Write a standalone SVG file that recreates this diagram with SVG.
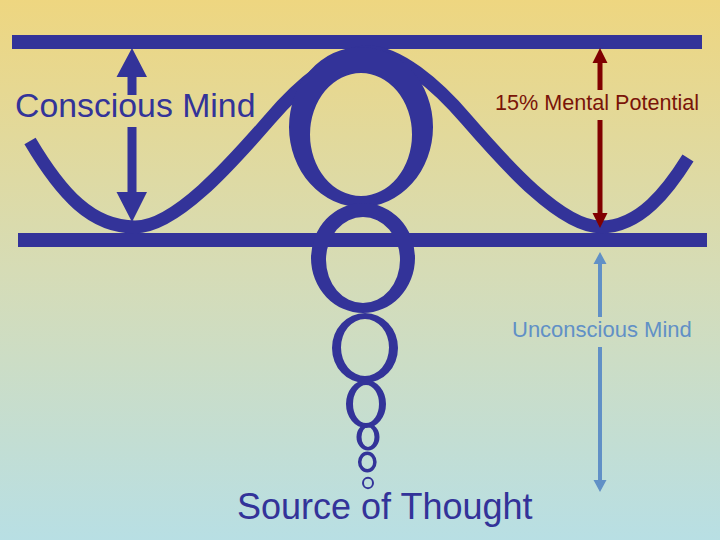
<svg xmlns="http://www.w3.org/2000/svg" width="720" height="540" viewBox="0 0 720 540">
  <defs>
    <linearGradient id="bg" x1="0" y1="0" x2="0" y2="1">
      <stop offset="0" stop-color="#EED680"/>
      <stop offset="0.5" stop-color="#D6DCB6"/>
      <stop offset="1" stop-color="#B8DFE4"/>
    </linearGradient>
    <style>
      .blue{fill:#333399}
      .red{fill:#800000}
      .lblue{fill:#6190C6}
      .wave{fill:none;stroke:#333399;stroke-width:13;stroke-linecap:butt}
      .ring{fill:#333399;fill-rule:evenodd}
      .thin{fill:none;stroke:#333399}
      text{font-family:"Liberation Sans",Arial,sans-serif}
    </style>
  </defs>
  <rect width="720" height="540" fill="url(#bg)"/>

  <g id="bars">
    <rect class="blue" x="12" y="35" width="690" height="14"/>
    <rect class="blue" x="18" y="233" width="689" height="14"/>
  </g>

  <g id="wave">
    <path class="wave" d="M30,141 C62,195 92,227 135,227 C175,227 230,165 270,119 C300,84 338,52 368,52 C398,52 436,84 466,119 C506,165 561,227 601,227 C640,227 668,190 688,158"/>
  </g>

  <g id="rings">
    <path class="ring" d="M289,127 a72,80 0 1,0 144,0 a72,80 0 1,0 -144,0 Z M310,134.5 a51,61.5 0 1,0 102,0 a51,61.5 0 1,0 -102,0 Z"/>
    <path class="ring" d="M311,258 a52,55 0 1,0 104,0 a52,55 0 1,0 -104,0 Z M326,260 a37,43 0 1,0 74,0 a37,43 0 1,0 -74,0 Z"/>
    <path class="ring" d="M332,348 a33,35 0 1,0 66,0 a33,35 0 1,0 -66,0 Z M341,347.5 a24,28.5 0 1,0 48,0 a24,28.5 0 1,0 -48,0 Z"/>
    <path class="ring" d="M346,404 a20,24 0 1,0 40,0 a20,24 0 1,0 -40,0 Z M353,404 a13,19 0 1,0 26,0 a13,19 0 1,0 -26,0 Z"/>
    <path class="ring" d="M356.5,437 a11.5,13.5 0 1,0 23,0 a11.5,13.5 0 1,0 -23,0 Z M361.5,437 a6.5,10 0 1,0 13,0 a6.5,10 0 1,0 -13,0 Z"/>
    <ellipse class="thin" cx="367.3" cy="462" rx="7.6" ry="8.8" stroke-width="3.5"/>
    <ellipse class="thin" cx="368" cy="483" rx="5" ry="5.2" stroke-width="2"/>
  </g>

  <g id="connectors">
    <polygon class="blue" points="127.5,95 127.5,77 116.5,77 132,48 147,77 136.5,77 136.5,95"/>
    <polygon class="blue" points="127.5,127 136.5,127 136.5,192 147,192 132,222 116.5,192 127.5,192"/>
    <polygon class="red" points="597.5,90 597.5,63 592.5,63 600,48 607.5,63 602.5,63 602.5,90"/>
    <polygon class="red" points="597.5,120 602.5,120 602.5,213 607.5,213 600,228 592.5,213 597.5,213"/>
    <polygon class="lblue" points="598,317 598,264 593.5,264 600,252 606.5,264 602,264 602,317"/>
    <polygon class="lblue" points="598,347 602,347 602,480 606.5,480 600,492 593.5,480 598,480"/>
  </g>

  <g id="labels">
    <text id="conscious" x="15" y="117" font-size="33.8" fill="#333399">Conscious Mind</text>
    <text id="potential" x="495" y="110" font-size="21.6" fill="#7A1408">15% Mental Potential</text>
    <text id="unconscious" x="512" y="337" font-size="22" fill="#6190C6">Unconscious Mind</text>
    <text id="source" x="237" y="519" font-size="36" fill="#333399">Source of Thought</text>
  </g>
</svg>
